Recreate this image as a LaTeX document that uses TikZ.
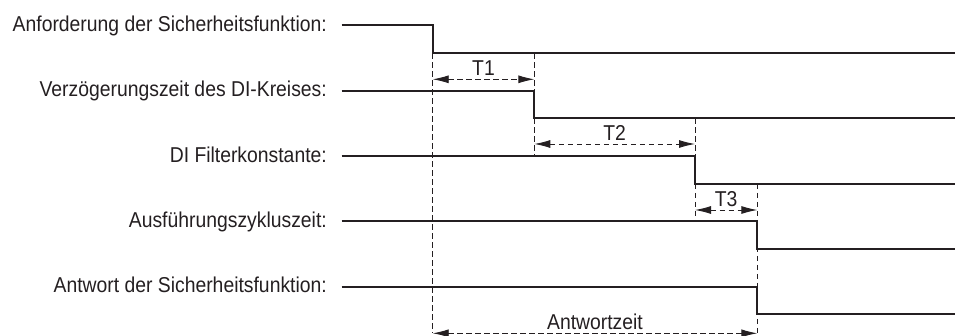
\documentclass[tikz,border=0pt]{standalone}
\usepackage{fontspec}
\setmainfont{Liberation Sans}[FakeStretch=0.9]
\usepackage{tikz}
\usetikzlibrary{arrows.meta, positioning}
\definecolor{inkgray}{rgb}{0.14,0.12,0.13}

\begin{document}
\begin{tikzpicture}[
  x=1pt, y=-1pt,
  signal/.style  = {line width=2pt, draw=inkgray},
  guide/.style   = {line width=0.9pt, draw=inkgray, dash pattern=on 5.5pt off 3.5pt},
  span/.style    = {guide, {Latex[length=16pt, width=8pt]}-{Latex[length=16pt, width=8pt]}},
  rowlabel/.style= {anchor=base east, inner sep=0pt, font=\fontsize{21.5}{24}\selectfont, text=inkgray},
  spanlabel/.style={midway, above=3pt, inner sep=0pt, font=\fontsize{21.5}{24}\selectfont, text=inkgray},
]
\useasboundingbox (0,0) rectangle (955,336);

%% ==================== ROW LABELS ====================
\node[rowlabel] (lanf) at (327,31.5)  {Anforderung der Sicherheitsfunktion:};
\node[rowlabel] (lver) at (327,96.8)  {Verzögerungszeit des DI-Kreises:};
\node[rowlabel] (lfil) at (327,162.1) {DI Filterkonstante:};
\node[rowlabel] (lzyk) at (327,227.4) {Ausführungszykluszeit:};
\node[rowlabel] (lant) at (327,292.7) {Antwort der Sicherheitsfunktion:};

%% ==================== SIGNAL EDGES ====================
\coordinate (anf0) at (341.7,25.5);  \coordinate (anf1) at (432.7,53.2);  \coordinate (anf2) at (955,53.2);
\coordinate (ver0) at (341.7,90.8);  \coordinate (ver1) at (534.3,118.5); \coordinate (ver2) at (955,118.5);
\coordinate (fil0) at (341.7,156.1); \coordinate (fil1) at (695,183.8);   \coordinate (fil2) at (955,183.8);
\coordinate (zyk0) at (341.7,221.4); \coordinate (zyk1) at (757.3,249.1); \coordinate (zyk2) at (955,249.1);
\coordinate (ant0) at (341.7,286.7); \coordinate (ant1) at (757.3,314.4); \coordinate (ant2) at (955,314.4);

%% Guide end points
\coordinate (t1top)  at (534.3,53.2);
\coordinate (t1bot)  at (534.3,90.8);
\coordinate (t2top)  at (695,118.5);
\coordinate (t2bot)  at (534.3,156.1);
\coordinate (t3top)  at (757.3,183.8);
\coordinate (t3bot)  at (695,221.4);
\coordinate (reslft) at (432.7,333.3);
\coordinate (resrgt) at (757.3,333.3);

%% Dashed guides
\draw[guide] (anf1) -- (reslft);
\draw[guide] (t1top) -- (t1bot);
\draw[guide] (ver1) -- (t2bot);
\draw[guide] (t2top) -- (fil0 -| t2top);
\draw[guide] (fil1) -- (t3bot);
\draw[guide] (t3top) -- (resrgt);

%% Signals
\draw[signal] (anf0) -| (anf1) -- (anf2);
\draw[signal] (ver0) -| (ver1) -- (ver2);
\draw[signal] (fil0) -| (fil1) -- (fil2);
\draw[signal] (zyk0) -| (zyk1) -- (zyk2);
\draw[signal] (ant0) -| (ant1) -- (ant2);

%% ==================== TIME SPANS ====================
\draw[span] (anf1 |- 0,79.3) -- (t1top |- 0,79.3)
      node[spanlabel] (tone) {T1};
\draw[span] (ver1 |- 0,144) -- (t2top |- 0,144)
      node[spanlabel] (ttwo) {T2};
\draw[span] (fil1 |- 0,210) -- (t3top |- 0,210)
      node[spanlabel] (tthree) {T3};
\draw[span] (reslft) -- (resrgt)
      node[spanlabel] (tresp) {Antwortzeit};

\end{tikzpicture}
\end{document}
